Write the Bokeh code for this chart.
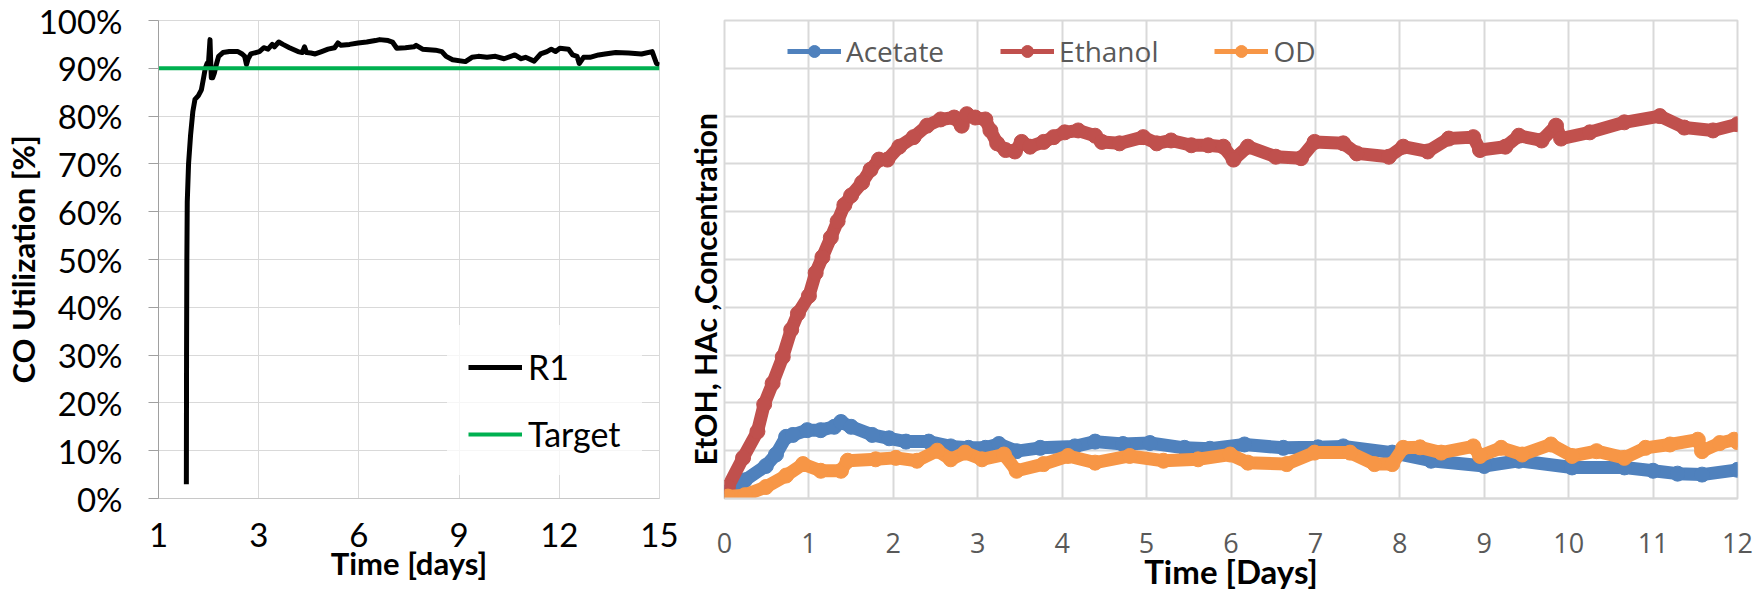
from bokeh.plotting import figure
from bokeh.layouts import row
from bokeh.models import FixedTicker, Legend, LegendItem, Title
from bokeh.embed import file_html
from bokeh.resources import INLINE

NAN = float("nan")

# ---------------- Left chart data ----------------
xtick_labels = ["1", "3", "6", "9", "12", "15"]
ytick_pct = [0, 10, 20, 30, 40, 50, 60, 70, 80, 90, 100]
target_pct = 90

r1_pos = [0.278, 0.280, 0.283, 0.287, 0.300, 0.320, 0.343, 0.364, 0.398, 0.428,
          0.450, 0.467, 0.484, 0.500, 0.514, 0.520, 0.527, 0.540, 0.557, 0.580,
          0.600, 0.643, 0.707, 0.793, 0.835, 0.860, 0.878, 0.895, 0.921, 1.007,
          1.050, 1.093, 1.135, 1.157, 1.200, 1.242, 1.307, 1.392, 1.435, 1.457,
          1.478, 1.521, 1.564, 1.628, 1.692, 1.757, 1.791, 1.821, 1.907, 1.992,
          2.078, 2.164, 2.207, 2.292, 2.335, 2.378, 2.464, 2.549, 2.571, 2.635,
          2.764, 2.828, 2.871, 2.935, 3.063, 3.128, 3.192, 3.278, 3.363, 3.449,
          3.556, 3.620, 3.663, 3.749, 3.813, 3.877, 3.920, 3.963, 4.006, 4.092,
          4.134, 4.177, 4.199, 4.242, 4.306, 4.392, 4.456, 4.563, 4.692, 4.820,
          4.927, 4.970, 5.0]
r1_pct = [3, 30, 50, 62, 70, 76, 81, 83.5, 84.3, 85.5,
          88, 90, 91, 91.5, 96, 92, 88, 88, 89, 91,
          92.5, 93.3, 93.5, 93.5, 93, 92.5, 90.8, 92, 93, 93.5,
          94.3, 94, 95, 94.5, 95.5, 95, 94.3, 93.5, 93.3, 94.5,
          93.3, 93.2, 93, 93.5, 94, 94.3, 95.3, 94.8, 95, 95.3,
          95.5, 95.8, 96, 95.8, 95.5, 94.2, 94.3, 94.5, 94.8, 94,
          93.8, 93.5, 92.5, 91.8, 91.4, 92.3, 92.5, 92.3, 92.5, 92,
          92.8, 92, 92.3, 91.5, 93, 93.5, 94, 93.5, 94.2, 94,
          92.8, 92.5, 91, 92.3, 92.3, 92.8, 93, 93.3, 93.2, 93,
          93.5, 91, 90.7]

# ---------------- Right chart data ----------------
day_ticks = list(range(13))
conc_grid = list(range(11))

acetate_day = [0.04, 0.24, 0.49, 0.61, 0.73, 0.81, 0.98, 1.14, 1.30, 1.38, 1.50, 1.75,
               1.95, 2.15, 2.42, 2.68, 2.89, 3.09, 3.25, 3.46, 3.74, 4.15, 4.39, 4.72,
               5.04, 5.45, 5.75, 6.16, 6.62, 7.03, 7.33, 7.91, 8.37, 9.0, 9.41, 10.04,
               10.66, 11.0, 11.29, 11.58, 12.0]
acetate_val = [0.14, 0.38, 0.68, 0.92, 1.29, 1.33, 1.43, 1.43, 1.50, 1.60, 1.50, 1.33,
               1.26, 1.19, 1.19, 1.09, 1.06, 1.06, 1.14, 0.99, 1.06, 1.09, 1.19, 1.14,
               1.16, 1.06, 1.04, 1.13, 1.06, 1.07, 1.09, 0.96, 0.79, 0.68, 0.79, 0.65,
               0.65, 0.58, 0.52, 0.50, 0.60]

ethanol_day = [0.04, 0.22, 0.39, 0.47, 0.57, 0.69, 0.79, 0.87, 1.0, 1.08, 1.16, 1.26,
               1.34, 1.42, 1.50, 1.63, 1.73, 1.83, 1.93, 2.07, 2.24, 2.40, 2.56, 2.72,
               2.81, 2.87, 2.97, 3.09, 3.15, 3.23, 3.33, 3.44, 3.52, 3.62, 3.78, 3.90,
               4.03, 4.19, 4.39, 4.47, 4.68, 4.96, 5.12, 5.29, 5.53, 5.73, 5.91, 6.03,
               6.20, 6.53, 6.83, 6.99, 7.33, 7.49, 7.87, 8.04, 8.33, 8.58, 8.87, 8.95,
               9.25, 9.41, 9.68, 9.85, 9.91, 10.25, 10.66, 11.08, 11.37, 11.71, 12.0]
ethanol_val = [0.24, 0.85, 1.40, 1.97, 2.41, 2.96, 3.53, 3.87, 4.24, 4.72, 5.05, 5.46,
               5.80, 6.14, 6.34, 6.61, 6.88, 7.09, 7.09, 7.36, 7.56, 7.80, 7.93, 7.97,
               7.80, 8.04, 7.97, 7.93, 7.70, 7.43, 7.29, 7.26, 7.46, 7.36, 7.46, 7.56,
               7.66, 7.70, 7.59, 7.46, 7.43, 7.56, 7.43, 7.49, 7.39, 7.39, 7.36, 7.09,
               7.36, 7.15, 7.12, 7.46, 7.43, 7.22, 7.15, 7.36, 7.26, 7.53, 7.56, 7.29,
               7.36, 7.59, 7.49, 7.80, 7.53, 7.66, 7.87, 8.00, 7.76, 7.70, 7.83]

od_day = [0.04, 0.24, 0.49, 0.73, 0.93, 1.14, 1.38, 1.46, 1.79, 2.03, 2.28, 2.52,
          2.68, 2.85, 3.05, 3.31, 3.46, 3.78, 4.07, 4.39, 4.80, 5.20, 5.61, 5.99,
          6.20, 6.66, 6.99, 7.41, 7.70, 7.91, 8.04, 8.24, 8.49, 8.87, 8.95, 9.20,
          9.45, 9.79, 10.04, 10.33, 10.66, 10.91, 11.20, 11.53, 11.58, 11.79, 11.96, 12.0]
od_val = [0.04, 0.07, 0.24, 0.48, 0.72, 0.58, 0.58, 0.79, 0.82, 0.85, 0.79, 1.0,
          0.82, 0.96, 0.82, 0.92, 0.58, 0.72, 0.89, 0.75, 0.89, 0.79, 0.82, 0.92,
          0.75, 0.72, 0.96, 0.96, 0.72, 0.72, 1.06, 1.07, 0.96, 1.09, 0.89, 1.06,
          0.92, 1.13, 0.89, 0.99, 0.85, 1.06, 1.13, 1.23, 0.99, 1.16, 1.23, 1.18]

series = [
    ("Acetate", acetate_day, acetate_val, "#4f81bd"),
    ("Ethanol", ethanol_day, ethanol_val, "#c0504d"),
    ("OD", od_day, od_val, "#f79646"),
]

GRID = "#d9d9d9"
H = 597

# ================= Left figure =================
p1 = figure(width=682, height=H, x_range=(0, len(xtick_labels) - 1), y_range=(0, 100),
            output_backend="svg", toolbar_location=None, title=None,
            min_border_left=153, min_border_right=23, min_border_top=20, min_border_bottom=99)
p1.background_fill_color = "white"
p1.border_fill_color = "white"
p1.outline_line_color = GRID
p1.outline_line_width = 1

p1.xaxis.ticker = FixedTicker(ticks=list(range(len(xtick_labels))))
p1.xaxis.major_label_overrides = {i: lab for i, lab in enumerate(xtick_labels)}
p1.yaxis.ticker = FixedTicker(ticks=ytick_pct)
p1.yaxis.major_label_overrides = {v: f"{v}%" for v in ytick_pct}

for ax in (p1.xaxis[0], p1.yaxis[0]):
    ax.minor_tick_line_color = None
    ax.major_label_text_font = "Lato"
    ax.major_label_text_font_size = "33px"
    ax.major_label_text_color = "black"
    ax.major_tick_in = 0
    ax.axis_label_text_font = "Lato"
    ax.axis_label_text_font_style = "bold"
    ax.axis_label_text_font_size = "31px"
    ax.axis_label_text_color = "black"
p1.xaxis.major_tick_out = 0
p1.xaxis.axis_line_color = "#c8c8c8"
p1.xaxis.major_label_standoff = 24
p1.xaxis.axis_label = "Time [days]"
p1.xaxis.axis_label_standoff = -6
p1.yaxis.major_tick_out = 10
p1.yaxis.axis_line_color = "#a0a0a0"
p1.yaxis.major_tick_line_color = "#a0a0a0"
p1.yaxis.major_label_standoff = 26
p1.yaxis.axis_label = "CO Utilization [%]"
p1.yaxis.axis_label_standoff = -6

p1.grid.grid_line_color = GRID
p1.grid.grid_line_width = 1

p1.line(r1_pos, r1_pct, line_width=5, color="black", line_join="round", legend_label="R1")
p1.line([0, len(xtick_labels) - 1], [target_pct, target_pct], line_width=4, color="#00b050",
        legend_label="Target")

lg1 = p1.legend[0]
lg1.location = (289, 23)
lg1.glyph_width = 54
lg1.glyph_height = 40
lg1.label_standoff = 6
lg1.spacing = 26
lg1.padding = 21
lg1.margin = 0
lg1.border_line_alpha = 0
lg1.background_fill_color = "white"
lg1.background_fill_alpha = 0.75
lg1.label_text_font = "Lato"
lg1.label_text_font_size = "34px"
lg1.label_text_color = "black"

# ================= Right figure =================
p2 = figure(width=1754 - 682, height=H, x_range=(0, 12), y_range=(0, 10),
            output_backend="svg", toolbar_location=None, title=None,
            min_border_left=41, min_border_right=17, min_border_top=10, min_border_bottom=95)
p2.background_fill_color = "white"
p2.border_fill_color = "white"
p2.outline_line_color = GRID
p2.outline_line_width = 2

p2.xaxis.ticker = FixedTicker(ticks=day_ticks)
p2.yaxis.visible = False
p2.ygrid.ticker = FixedTicker(ticks=conc_grid)
p2.xaxis.minor_tick_line_color = None
p2.xaxis.major_tick_in = 0
p2.xaxis.major_tick_out = 0
p2.xaxis.axis_line_color = GRID
p2.xaxis.axis_line_width = 2
p2.xaxis.major_label_text_font = "Open Sans"
p2.xaxis.major_label_text_font_size = "27px"
p2.xaxis.major_label_text_color = "#595959"
p2.xaxis.major_label_standoff = 34
p2.xaxis.axis_label = "Time [Days]"
p2.xaxis.axis_label_standoff = -5
p2.xaxis.axis_label_text_font = "Lato"
p2.xaxis.axis_label_text_font_style = "bold"
p2.xaxis.axis_label_text_font_size = "33px"
p2.xaxis.axis_label_text_color = "black"

p2.add_layout(Title(text="EtOH, HAc ,Concentration", align="left", offset=33,
                    vertical_align="bottom", standoff=4, text_font="Lato",
                    text_font_style="bold", text_font_size="30px", text_color="black"), "left")

p2.grid.grid_line_color = GRID
p2.grid.grid_line_width = 2

items = []
for name, d, v, col in series:
    p2.line(d, v, line_width=13, color=col, line_join="round", line_cap="round")
    p2.scatter(d, v, size=15, color=col)
    lr = p2.line([NAN], [NAN], line_width=5, color=col)
    cr = p2.scatter([NAN], [NAN], size=12, color=col)
    items.append(LegendItem(label=name, renderers=[lr, cr]))

lg2 = Legend(items=items, orientation="horizontal", location=(63, 428))
lg2.glyph_width = 54
lg2.glyph_height = 30
lg2.label_standoff = 5
lg2.spacing = 56
lg2.padding = 0
lg2.margin = 0
lg2.border_line_alpha = 0
lg2.background_fill_alpha = 0
lg2.label_text_font = "Open Sans"
lg2.label_text_font_size = "28px"
lg2.label_text_color = "#595959"
p2.add_layout(lg2, "center")

layout = row(p1, p2)
open("out.html", "w").write(file_html(layout, INLINE))
